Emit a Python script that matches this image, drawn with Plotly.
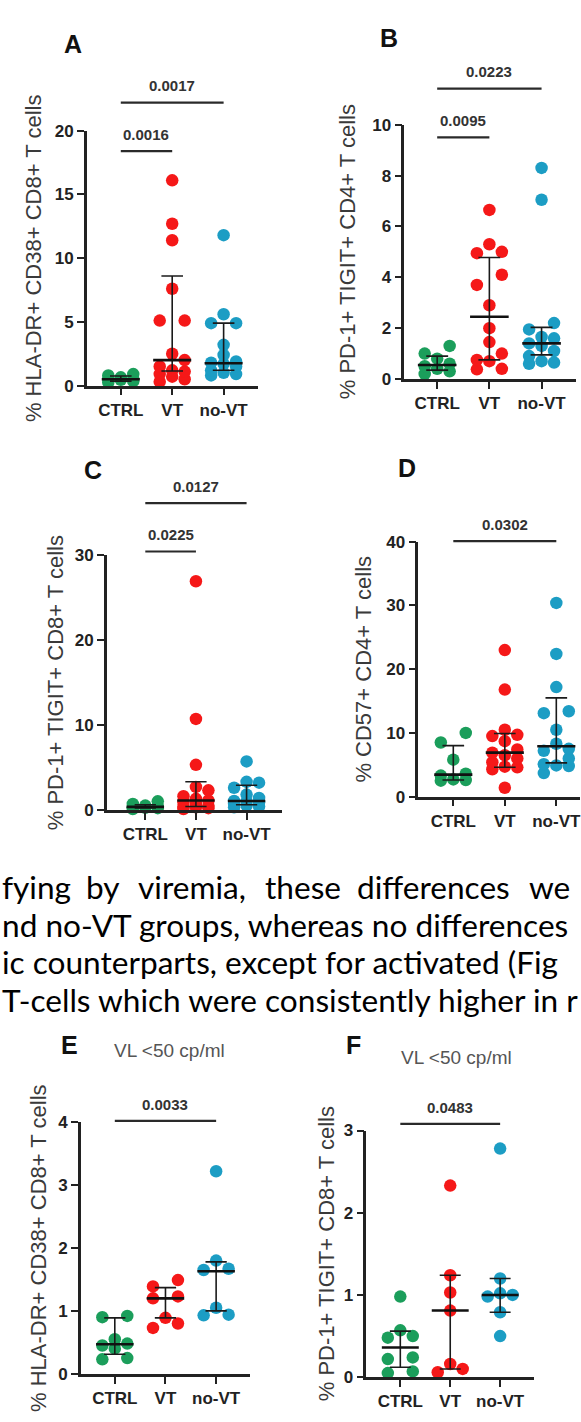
import plotly.graph_objects as go

W, H = 581, 1422

GROUPS = ["CTRL", "VT", "no-VT"]
COLORS = ["#1b9e5b", "#f51818", "#1c9dc4"]

# ---------------- data ----------------
A_CTRL = [0.25, 0.35, 0.45, 0.5, 0.55, 0.65, 0.8, 0.9]
A_VT = [16.1, 12.7, 11.4, 7.6, 5.1, 5.1, 2.5, 2.0, 1.5, 1.2, 1.1, 0.9, 0.7, 0.5, 0.3]
A_NOVT = [11.8, 5.6, 4.9, 4.9, 3.2, 2.4, 1.9, 1.8, 1.7, 1.5, 1.2, 1.0, 0.9, 0.8]
A_MED = [0.5, 2.0, 1.75]
A_Q1 = [0.35, 1.15, 1.2]
A_Q3 = [0.75, 8.6, 4.9]

B_CTRL = [0.2, 0.3, 0.4, 0.5, 0.6, 0.8, 1.0, 1.3]
B_VT = [6.65, 5.3, 5.0, 4.95, 4.1, 3.7, 2.9, 2.0, 1.45, 1.0, 0.75, 0.7, 0.4, 0.38]
B_NOVT = [8.3, 7.05, 2.2, 1.95, 1.65, 1.6, 1.4, 1.3, 1.1, 0.9, 0.7, 0.65, 0.6]
B_MED = [0.55, 2.45, 1.4]
B_Q1 = [0.35, 0.75, 0.95]
B_Q3 = [0.9, 4.78, 2.03]

C_CTRL = [0.1, 0.2, 0.25, 0.3, 0.4, 0.5, 0.7, 1.0]
C_VT = [26.9, 10.7, 5.3, 2.7, 2.3, 1.6, 1.3, 1.1, 0.9, 0.7, 0.5, 0.4, 0.3, 0.2, 0.1]
C_NOVT = [5.7, 3.3, 3.2, 2.6, 1.8, 1.4, 1.05, 1.0, 0.9, 0.7, 0.5, 0.4, 0.3]
C_MED = [0.35, 1.1, 1.05]
C_Q1 = [0.22, 0.4, 0.6]
C_Q3 = [0.6, 3.3, 2.9]

D_CTRL = [10.0, 8.5, 5.8, 3.6, 3.3, 2.7, 2.6, 2.5]
D_VT = [23.0, 16.8, 10.5, 9.7, 9.5, 8.7, 7.4, 6.9, 6.5, 6.0, 5.4, 4.7, 4.6, 4.3, 1.4]
D_NOVT = [30.4, 22.4, 17.2, 13.4, 13.1, 10.5, 8.3, 7.5, 7.2, 6.0, 5.1, 4.9, 4.8, 3.7]
D_MED = [3.45, 6.9, 7.9]
D_Q1 = [2.6, 4.6, 5.3]
D_Q3 = [8.0, 9.9, 15.5]

E_CTRL = [0.92, 0.90, 0.55, 0.48, 0.45, 0.40, 0.25, 0.23]
E_VT = [1.49, 1.39, 1.23, 1.2, 0.89, 0.8, 0.73]
E_NOVT = [3.22, 1.8, 1.67, 1.65, 1.05, 0.94, 0.93]
E_MED = [0.47, 1.2, 1.63]
E_Q1 = [0.31, 0.89, 1.0]
E_Q3 = [0.89, 1.37, 1.78]

F_CTRL = [0.98, 0.57, 0.50, 0.48, 0.24, 0.22, 0.07, 0.05]
F_VT = [2.33, 1.24, 1.03, 0.81, 0.16, 0.10, 0.06]
F_NOVT = [2.78, 1.2, 1.02, 1.0, 0.98, 0.79, 0.5]
F_MED = [0.36, 0.81, 1.0]
F_Q1 = [0.12, 0.10, 0.79]
F_Q3 = [0.56, 1.24, 1.2]

TEXT_LINE1 = ["fying", "by", "viremia,", "these", "differences", "we"]
TEXT_LINES = ["nd no-VT groups, whereas no differences",
              "ic counterparts, except for activated (Fig",
              "T-cells which were consistently higher in r"]

# ---------------- panel layout (pixels) ----------------
panels = [
    dict(letter="A", vals=[A_CTRL, A_VT, A_NOVT], med=A_MED, q1=A_Q1, q3=A_Q3,
         ymax=20, step=5, title="% HLA-DR+ CD38+ CD8+ T cells",
         sig=[(0, 1, 18.4, "0.0016"), (0, 2, 22.2, "0.0017")],
         box=(87, 258, 123.3, 381.7), xr=(-0.66, 2.66),
         lpos=(73, 35), tx=33, sub=None),
    dict(letter="B", vals=[B_CTRL, B_VT, B_NOVT], med=B_MED, q1=B_Q1, q3=B_Q3,
         ymax=10, step=2, title="% PD-1+ TIGIT+ CD4+ T cells",
         sig=[(0, 1, 9.5, "0.0095"), (0, 2, 11.42, "0.0223")],
         box=(405, 577, 117.3, 375), xr=(-0.63, 2.66),
         lpos=(390, 29), tx=348, sub=None),
    dict(letter="C", vals=[C_CTRL, C_VT, C_NOVT], med=C_MED, q1=C_Q1, q3=C_Q3,
         ymax=30, step=10, title="% PD-1+ TIGIT+ CD8+ T cells",
         sig=[(0, 1, 30.4, "0.0225"), (0, 2, 36.1, "0.0127")],
         box=(107, 282, 553.3, 811.7), xr=(-0.76, 2.69),
         lpos=(93, 467), tx=55, sub=None),
    dict(letter="D", vals=[D_CTRL, D_VT, D_NOVT], med=D_MED, q1=D_Q1, q3=D_Q3,
         ymax=40, step=10, title="% CD57+ CD4+ T cells",
         sig=[(0, 2, 40.1, "0.0302")],
         box=(419, 581, 540, 798.3), xr=(-0.68, 2.46),
         lpos=(408, 465), tx=364, sub=None),
    dict(letter="E", vals=[E_CTRL, E_VT, E_NOVT], med=E_MED, q1=E_Q1, q3=E_Q3,
         ymax=4, step=1, title="% HLA-DR+ CD38+ CD8+ T cells",
         sig=[(0, 2, 4.02, "0.0033")],
         box=(81, 250, 1128.3, 1383.3), xr=(-0.67, 2.66),
         lpos=(70, 1050), tx=38, sub=(170, 1056)),
    dict(letter="F", vals=[F_CTRL, F_VT, F_NOVT], med=F_MED, q1=F_Q1, q3=F_Q3,
         ymax=3, step=1, title="% PD-1+ TIGIT+ CD8+ T cells",
         sig=[(0, 2, 3.08, "0.0483")],
         box=(367, 535, 1136.7, 1386.7), xr=(-0.68, 2.68),
         lpos=(354, 1050), tx=327, sub=(457, 1063)),
]

AX = "#222222"
MARKER_D = 12.5

fig = go.Figure()
shapes = []
annots = []


def beeswarm(values, px_per_y, px_per_x):
    """Deterministic GraphPad-like spreading of points into rows."""
    d = MARKER_D / px_per_x
    vs = sorted(values)
    offs, ys = [], []
    i = 0
    while i < len(vs):
        row = [vs[i]]
        j = i + 1
        while j < len(vs) and (vs[j] - vs[i]) * px_per_y < MARKER_D * 0.95 and len(row) < 3:
            row.append(vs[j])
            j += 1
        k = len(row)
        pos = {1: [0], 2: [-d, d], 3: [-d, d, 0]}[k]
        for v, p in zip(row, pos):
            ys.append(v)
            offs.append(p)
        i = j
    return offs, ys


for n, p in enumerate(panels):
    ax = "" if n == 0 else str(n + 1)
    L, R, T, B = p["box"]
    xr0, xr1 = p["xr"]
    ymax = p["ymax"]
    dx = [L / W, min(R / W, 1.0)]
    dy = [1 - B / H, 1 - T / H]
    px_per_x = (R - L) / (xr1 - xr0)
    px_per_y = (B - T) / ymax

    def PY(yv):
        return dy[0] + yv / ymax * (dy[1] - dy[0])

    for g, vals in enumerate(p["vals"]):
        offs, ys = beeswarm(vals, px_per_y, px_per_x)
        fig.add_trace(go.Scatter(
            x=[g + o for o in offs], y=ys, mode="markers",
            marker=dict(size=MARKER_D, color=COLORS[g], line=dict(width=0)),
            cliponaxis=False, showlegend=False, hoverinfo="skip",
            xaxis="x" + ax, yaxis="y" + ax))
    # IQR bars
    hw_cap, hw_med = 0.21, 0.37
    xs, ys = [], []
    for g in range(3):
        xs += [g, g, None, g - hw_cap, g + hw_cap, None, g - hw_cap, g + hw_cap, None]
        ys += [p["q1"][g], p["q3"][g], None, p["q1"][g], p["q1"][g], None, p["q3"][g], p["q3"][g], None]
    fig.add_trace(go.Scatter(x=xs, y=ys, mode="lines", line=dict(color="#1a1a1a", width=1.6),
                             showlegend=False, hoverinfo="skip", cliponaxis=False,
                             xaxis="x" + ax, yaxis="y" + ax))
    xs, ys = [], []
    for g in range(3):
        xs += [g - hw_med, g + hw_med, None]
        ys += [p["med"][g], p["med"][g], None]
    fig.add_trace(go.Scatter(x=xs, y=ys, mode="lines", line=dict(color="#111111", width=2.6),
                             showlegend=False, hoverinfo="skip", cliponaxis=False,
                             xaxis="x" + ax, yaxis="y" + ax))

    tickfont = dict(family="Liberation Sans", size=17, color=AX, weight=700)
    fig.update_layout(**{
        "xaxis" + ax: dict(domain=dx, range=[xr0, xr1], anchor="y" + ax,
                           tickvals=[0, 1, 2], ticktext=GROUPS, ticks="outside",
                           ticklen=7, tickwidth=2, tickcolor=AX, showline=True,
                           linewidth=2.5, linecolor=AX, showgrid=False, zeroline=False,
                           tickfont=tickfont, ticklabeloverflow="allow", fixedrange=True),
        "yaxis" + ax: dict(domain=dy, range=[0, ymax], anchor="x" + ax,
                           tickvals=list(range(0, ymax + 1, p["step"])), ticks="outside",
                           ticklen=7, tickwidth=2, tickcolor=AX, showline=True,
                           linewidth=2.5, linecolor=AX, showgrid=False, zeroline=False,
                           tickfont=tickfont, ticklabeloverflow="allow", fixedrange=True),
    })

    # significance bars
    for g0, g1, yv, label in p["sig"]:
        x0 = (L + (g0 - xr0) * px_per_x) / W
        x1 = (L + (g1 - xr0) * px_per_x) / W
        yy = PY(yv)
        shapes.append(dict(type="line", xref="paper", yref="paper", x0=x0, x1=x1, y0=yy, y1=yy,
                           line=dict(color="#2a2a2a", width=2.2)))
        annots.append(dict(text=label, xref="paper", yref="paper", x=(x0 + x1) / 2,
                           y=yy + 17 / H, xanchor="center", yanchor="middle", showarrow=False,
                           font=dict(family="Liberation Sans", size=15, color="#333333", weight=700)))

    # panel letter
    annots.append(dict(text=p["letter"], xref="paper", yref="paper", x=p["lpos"][0] / W,
                       y=1 - p["lpos"][1] / H, xanchor="center", yanchor="middle", showarrow=False,
                       font=dict(family="Liberation Sans", size=25, color="#111111", weight=700)))
    # y title
    annots.append(dict(text=p["title"], xref="paper", yref="paper", x=p["tx"] / W,
                       y=1 - (T + B) / 2 / H, xanchor="center", yanchor="middle", showarrow=False,
                       textangle=-90,
                       font=dict(family="Liberation Sans", size=22, color="#3a3a3a")))
    if p["sub"]:
        annots.append(dict(text="VL &lt;50 cp/ml", xref="paper", yref="paper", x=p["sub"][0] / W,
                           y=1 - p["sub"][1] / H, xanchor="center", yanchor="middle",
                           showarrow=False,
                           font=dict(family="Liberation Sans", size=19, color="#555555")))

# paragraph text
TXT_FONT = dict(family="Lato", size=31.6, color="#000000")
line1_x = [0, 84, 136, 263, 356, 528]
for word, xp in zip(TEXT_LINE1, line1_x):
    annots.append(dict(text=word, xref="paper", yref="paper", x=xp / W, y=1 - 890 / H,
                       xanchor="left", yanchor="middle", showarrow=False, font=TXT_FONT))
for k, line in enumerate(TEXT_LINES):
    annots.append(dict(text=line, xref="paper", yref="paper", x=0, y=1 - (928 + 38 * k) / H,
                       xanchor="left", yanchor="middle", showarrow=False, font=TXT_FONT))

fig.update_layout(width=W, height=H, margin=dict(l=0, r=0, t=0, b=0),
                  paper_bgcolor="white", plot_bgcolor="white",
                  shapes=shapes, annotations=annots, showlegend=False)

fig.write_html("out.html", config={"displayModeBar": False},
               post_script="document.body.style.margin='0';document.body.style.overflow='hidden';")
